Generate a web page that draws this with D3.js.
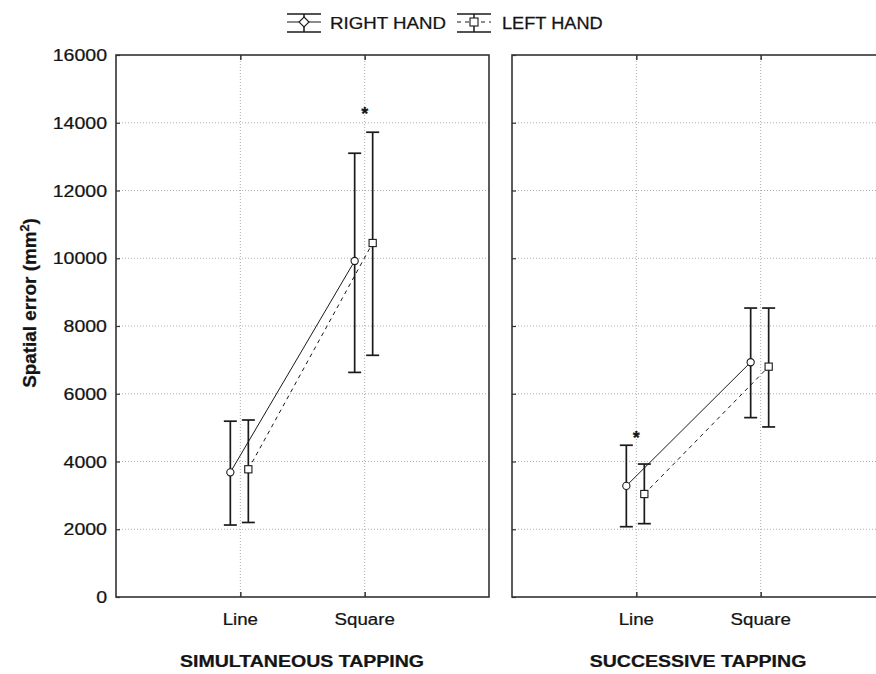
<!DOCTYPE html>
<html><head><meta charset="utf-8">
<script src="https://cdn.jsdelivr.net/npm/d3@7"></script>
<style>
html,body{margin:0;padding:0;background:#fff;}
svg text{font-family:"Liberation Sans",Arial,sans-serif;fill:#141414;stroke:#141414;stroke-width:0.25px;}
</style></head>
<body><svg id="c" width="876" height="674"></svg>
<script>
const categories = ["Line", "Square"];
const panelTitles = ["SIMULTANEOUS TAPPING", "SUCCESSIVE TAPPING"];
const seriesNames = ["RIGHT HAND", "LEFT HAND"];
const yTicks = [0, 2000, 4000, 6000, 8000, 10000, 12000, 14000, 16000];

// Simultaneous tapping
const simRightMean = [3680, 9920];
const simRightLow  = [2125, 6630];
const simRightHigh = [5190, 13100];
const simLeftMean  = [3770, 10450];
const simLeftLow   = [2200, 7135];
const simLeftHigh  = [5225, 13720];
// Successive tapping
const sucRightMean = [3280, 6930];
const sucRightLow  = [2075, 5295];
const sucRightHigh = [4480, 8530];
const sucLeftMean  = [3040, 6800];
const sucLeftLow   = [2165, 5020];
const sucLeftHigh  = [3925, 8530];

// asterisks: [panel, category, value]
const sigMarks = [[0, "Square", 14400], [1, "Line", 4850]];

const svg = d3.select("#c");
const plotTop = 55, plotBottom = 597, pw = 373;
const panelLeft = [116, 512];
const y = d3.scaleLinear().domain([0, 16000]).range([plotBottom, plotTop]);

function stext(sel, x, yy, sx) {
  return sel.append("text").attr("transform", `translate(${x},${yy}) scale(${sx},1)`);
}

const panels = [
  {right: {mean: simRightMean, lo: simRightLow, hi: simRightHigh},
   left:  {mean: simLeftMean,  lo: simLeftLow,  hi: simLeftHigh}},
  {right: {mean: sucRightMean, lo: sucRightLow, hi: sucRightHigh},
   left:  {mean: sucLeftMean,  lo: sucLeftLow,  hi: sucLeftHigh}}
];
const offsets = {right: -10, left: 8};
const ink = "#1a1a1a";
const titleX = [302, 698];

panels.forEach((p, pi) => {
  const L = panelLeft[pi];
  const x = d3.scalePoint().domain(categories).range([L, L + pw]).padding(1);
  const g = svg.append("g");
  g.selectAll(".hg").data(yTicks.slice(1, -1)).enter().append("line")
    .attr("x1", L).attr("x2", L + pw).attr("y1", d => y(d)).attr("y2", d => y(d))
    .attr("stroke", "#adadad").attr("stroke-dasharray", "1,2");
  g.selectAll(".vg").data(categories).enter().append("line")
    .attr("x1", d => x(d)).attr("x2", d => x(d)).attr("y1", plotTop).attr("y2", plotBottom)
    .attr("stroke", "#adadad").attr("stroke-dasharray", "1,2");
  g.append("rect").attr("x", L).attr("y", plotTop).attr("width", pw).attr("height", plotBottom - plotTop)
    .attr("fill", "none").attr("stroke", "#333").attr("stroke-width", 1.6);
  g.append("g").attr("transform", `translate(${L},0)`)
    .call(d3.axisRight(y).tickValues(yTicks).tickSize(4).tickFormat(""))
    .call(a => a.select(".domain").remove())
    .selectAll("line").attr("stroke", "#333").attr("stroke-width", 1.2);
  g.append("g").attr("transform", `translate(0,${plotBottom})`)
    .call(d3.axisTop(x).tickSize(5).tickFormat(""))
    .call(a => a.select(".domain").remove())
    .selectAll("line").attr("stroke", "#333").attr("stroke-width", 1.5);
  g.append("g").attr("transform", `translate(0,${plotTop})`)
    .call(d3.axisBottom(x).tickSize(5).tickFormat(""))
    .call(a => a.select(".domain").remove())
    .selectAll("line").attr("stroke", "#333").attr("stroke-width", 1.5);
  categories.forEach(c => {
    stext(g, x(c), 625, 1.1).attr("text-anchor", "middle").attr("font-size", 17).text(c);
  });
  stext(g, titleX[pi], 667, 1.15).attr("text-anchor", "middle").attr("font-size", 17)
    .attr("font-weight", "bold").text(panelTitles[pi]);

  ["right", "left"].forEach(s => {
    const d = p[s], off = offsets[s];
    const pts = categories.map((c, i) => [x(c) + off, y(d.mean[i])]);
    g.append("path").attr("d", d3.line()(pts)).attr("fill", "none")
      .attr("stroke", ink).attr("stroke-width", 1)
      .attr("stroke-dasharray", s === "left" ? "4,4" : null);
    categories.forEach((c, i) => {
      const cx = x(c) + off;
      g.append("line").attr("x1", cx).attr("x2", cx).attr("y1", y(d.lo[i])).attr("y2", y(d.hi[i]))
        .attr("stroke", ink).attr("stroke-width", 1.7);
      [d.lo[i], d.hi[i]].forEach(v => g.append("line")
        .attr("x1", cx - 6.5).attr("x2", cx + 6.5).attr("y1", y(v)).attr("y2", y(v))
        .attr("stroke", ink).attr("stroke-width", 1.7));
      if (s === "right") {
        g.append("circle").attr("cx", cx).attr("cy", y(d.mean[i])).attr("r", 3.6)
          .attr("fill", "#fff").attr("stroke", ink).attr("stroke-width", 1.1);
      } else {
        g.append("rect").attr("x", cx - 3.6).attr("y", y(d.mean[i]) - 3.6)
          .attr("width", 7.2).attr("height", 7.2)
          .attr("fill", "#fff").attr("stroke", ink).attr("stroke-width", 1.1);
      }
    });
  });
  sigMarks.filter(m => m[0] === pi).forEach(m => {
    g.append("text").attr("x", x(m[1])).attr("y", y(m[2]) + 11).attr("text-anchor", "middle")
      .attr("font-size", 18).attr("font-weight", "bold").text("*");
  });
});

yTicks.forEach(t => {
  stext(svg, 107, y(t) + 6, 1.15).attr("text-anchor", "end").attr("font-size", 17).text(t);
});

svg.append("text").attr("transform", "translate(36,303) rotate(-90) scale(1.05,1)")
  .attr("text-anchor", "middle").attr("font-size", 18).attr("font-weight", "bold")
  .call(t => {
    t.append("tspan").text("Spatial error (mm");
    t.append("tspan").attr("font-size", 12).attr("dy", -7).text("2");
    t.append("tspan").attr("dy", 7).text(")");
  });

const leg = svg.append("g");
const legItems = [{name: seriesNames[0], x: 287, tx: 330, s: "right", sx: 1.1},
                  {name: seriesNames[1], x: 457, tx: 502, s: "left", sx: 1.07}];
legItems.forEach(it => {
  const w = 34, cx = it.x + w / 2, cy = 22;
  leg.append("line").attr("x1", it.x).attr("x2", it.x + w).attr("y1", 14).attr("y2", 14)
    .attr("stroke", ink).attr("stroke-width", 1.5);
  leg.append("line").attr("x1", it.x).attr("x2", it.x + w).attr("y1", 32).attr("y2", 32)
    .attr("stroke", ink).attr("stroke-width", 1.5);
  leg.append("line").attr("x1", cx).attr("x2", cx).attr("y1", 14).attr("y2", 32)
    .attr("stroke", ink).attr("stroke-width", 1.5);
  leg.append("line").attr("x1", it.x).attr("x2", it.x + w).attr("y1", cy).attr("y2", cy)
    .attr("stroke", ink).attr("stroke-width", 1.1)
    .attr("stroke-dasharray", it.s === "left" ? "4,4" : null);
  if (it.s === "right") {
    leg.append("path").attr("d", `M${cx},${cy - 5}L${cx + 5},${cy}L${cx},${cy + 5}L${cx - 5},${cy}Z`)
      .attr("fill", "#fff").attr("stroke", ink).attr("stroke-width", 1.1);
  } else {
    leg.append("rect").attr("x", cx - 4).attr("y", cy - 4).attr("width", 8).attr("height", 8)
      .attr("fill", "#fff").attr("stroke", ink).attr("stroke-width", 1.1);
  }
  stext(leg, it.tx, 28.5, it.sx).attr("font-size", 17).text(it.name);
});
</script></body></html>
